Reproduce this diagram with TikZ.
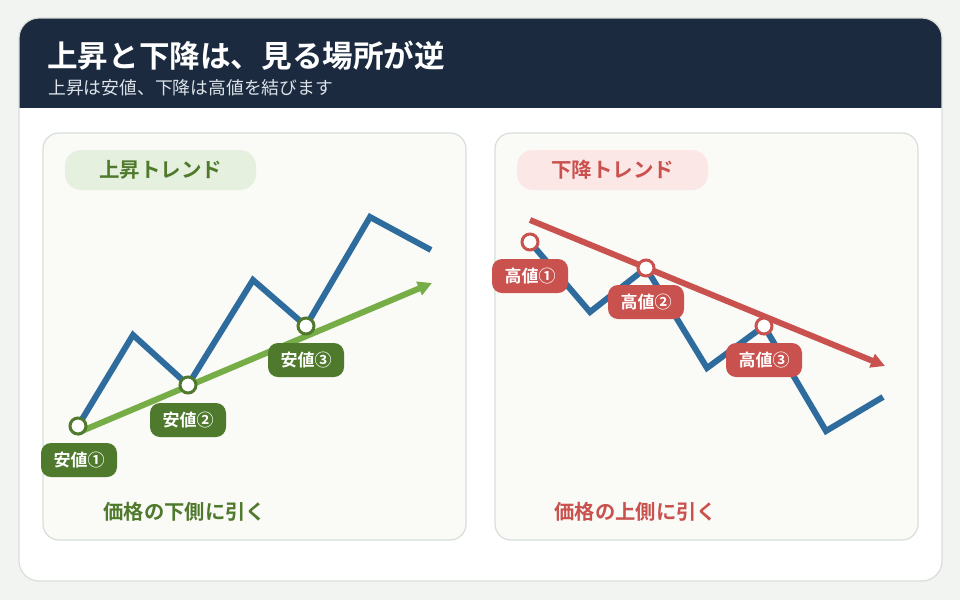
\documentclass[tikz,border=0pt]{standalone}
\usepackage{fontspec}
\setmainfont{Noto Sans CJK JP}[BoldFont={Noto Sans CJK JP Bold}]
\usetikzlibrary{arrows.meta}
\definecolor{pagebg}{HTML}{F2F4F2}
\definecolor{navy}{HTML}{1B2A3E}
\definecolor{subt}{HTML}{DCE2E8}
\definecolor{gdark}{HTML}{4F7A2D}
\definecolor{gline}{HTML}{76AD47}
\definecolor{gpill}{HTML}{E6F0DF}
\definecolor{rmain}{HTML}{C9524F}
\definecolor{rpill}{HTML}{FCE7E7}
\definecolor{pblue}{HTML}{2E6C9E}
\definecolor{panelbg}{HTML}{FAFAF6}
\definecolor{panelbd}{HTML}{D6DFDA}
\definecolor{cardbd}{HTML}{D9DED9}
\tikzset{
  panelbox/.style={draw=panelbd, line width=1.2pt, fill=panelbg, rounded corners=16},
  pillbox/.style={rounded corners=16, minimum width=191, minimum height=40, inner sep=0pt, font=\bfseries\fontsize{20.5}{24}\selectfont},
  pricepath/.style={draw=pblue, line width=6pt, line join=miter},
  dot/.style={circle, fill=white, draw=#1, line width=3pt, minimum size=16, inner sep=0pt},
  tag/.style={fill=#1, text=white, rounded corners=10, minimum width=76, minimum height=34, inner sep=0pt, font=\bfseries\fontsize{17}{20}\selectfont},
  note/.style={font=\bfseries\fontsize{20.3}{24}\selectfont, anchor=west},
}
\begin{document}
\begin{tikzpicture}[x=1pt,y=-1pt]
\useasboundingbox (0,0) rectangle (960,600);
\fill[pagebg] (0,0) rectangle (960,600);
% card
\fill[white, rounded corners=20] (19,18) rectangle (942,581);
\begin{scope}
  \clip[rounded corners=20] (19,18) rectangle (942,581);
  \fill[navy] (19,18) rectangle (942,108);
\end{scope}
\draw[cardbd, line width=1.2pt, rounded corners=20] (19,18) rectangle (942,581);
\node[anchor=west, text=white, font=\bfseries\fontsize{30.6}{36}\selectfont, inner sep=0pt] (title) at (47,56) {上昇と下降は、見る場所が逆};
\node[anchor=west, text=subt, font=\fontsize{17.8}{21}\selectfont, inner sep=0pt] (subtitle) at (48,88) {上昇は安値、下降は高値を結びます};
% panels
\draw[panelbox] (43,133) rectangle (466,540);
\draw[panelbox] (495,133) rectangle (918,540);
\node[pillbox, fill=gpill, text=gdark] (uppill) at (160.5,170) {上昇トレンド};
\node[pillbox, fill=rpill, text=rmain] (downpill) at (612.5,170) {下降トレンド};
% left: uptrend
\coordinate (u1) at (78,426);
\coordinate (u2) at (133,335);
\coordinate (u3) at (188,385);
\coordinate (u4) at (253,280);
\coordinate (u5) at (306,326);
\coordinate (u6) at (370,217);
\coordinate (u7) at (431,250);
\draw[pricepath] (u1) -- (u2) -- (u3) -- (u4) -- (u5) -- (u6) -- (u7);
\coordinate (gs) at (77,433);
\coordinate (ge) at (432,283);
\draw[gline, line width=6pt, -{Triangle[length=14pt,width=14pt]}] (gs) -- (ge);
\node[dot=gdark] (low1) at (u1) {};
\node[dot=gdark] (low2) at (u3) {};
\node[dot=gdark] (low3) at (u5) {};
\node[tag=gdark] (lowtag1) at (79,460) {安値①};
\node[tag=gdark] (lowtag2) at (188,420) {安値②};
\node[tag=gdark] (lowtag3) at (306,360) {安値③};
\node[note, text=gdark] (upnote) at (100,512) {価格の下側に引く};
% right: downtrend
\coordinate (d1) at (530,242);
\coordinate (d2) at (590,312);
\coordinate (d3) at (646,268);
\coordinate (d4) at (707,368);
\coordinate (d5) at (764,326);
\coordinate (d6) at (826,431);
\coordinate (d7) at (883,397);
\draw[pricepath] (d1) -- (d2) -- (d3) -- (d4) -- (d5) -- (d6) -- (d7);
\coordinate (rs) at (530,220);
\coordinate (re) at (885,366);
\draw[rmain, line width=6pt, -{Triangle[length=14pt,width=14pt]}] (rs) -- (re);
\node[dot=rmain] (high1) at (d1) {};
\node[dot=rmain] (high2) at (d3) {};
\node[dot=rmain] (high3) at (d5) {};
\node[tag=rmain] (hightag1) at (530,276) {高値①};
\node[tag=rmain] (hightag2) at (646,302) {高値②};
\node[tag=rmain] (hightag3) at (764,360) {高値③};
\node[note, text=rmain] (downnote) at (551,512) {価格の上側に引く};
\end{tikzpicture}
\end{document}
